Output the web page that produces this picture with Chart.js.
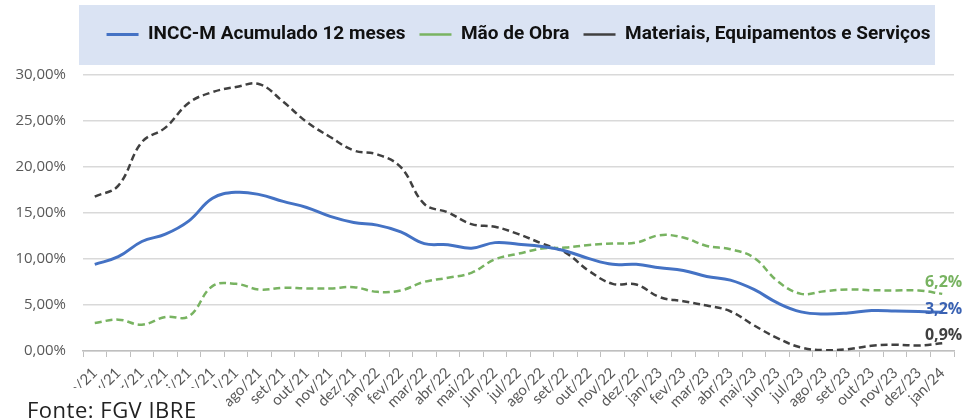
<!DOCTYPE html>
<html>
<head>
<meta charset="utf-8">
<script src="https://cdn.jsdelivr.net/npm/chart.js@4"></script>
<style>
  html, body { margin: 0; padding: 0; background: #ffffff; }
  #wrap { width: 966px; height: 420px; position: relative; }
</style>
</head>
<body>
<div id="wrap"><canvas id="c" width="966" height="420"></canvas></div>
<script>
const categories = [
  "jan/21","fev/21","mar/21","abr/21","mai/21","jun/21","jul/21","ago/21","set/21","out/21","nov/21","dez/21",
  "jan/22","fev/22","mar/22","abr/22","mai/22","jun/22","jul/22","ago/22","set/22","out/22","nov/22","dez/22",
  "jan/23","fev/23","mar/23","abr/23","mai/23","jun/23","jul/23","ago/23","set/23","out/23","nov/23","dez/23",
  "jan/24"
];
const inccM = [
  9.42, 10.25, 11.9, 12.7, 14.15, 16.6, 17.25, 17.0, 16.26, 15.6, 14.63, 13.97,
  13.68, 12.95, 11.67, 11.56, 11.17, 11.78, 11.6, 11.35, 10.87, 10.04, 9.42, 9.42,
  9.05, 8.76, 8.1, 7.7, 6.69, 5.23, 4.25, 4.02, 4.13, 4.39, 4.35, 4.28,
  4.2
];
const maoDeObra = [
  3.04, 3.41, 2.86, 3.7, 3.77, 7.05, 7.3, 6.68, 6.87, 6.8, 6.8, 6.94,
  6.43, 6.58, 7.52, 7.96, 8.5, 9.96, 10.58, 11.13, 11.24, 11.53, 11.68, 11.78,
  12.59, 12.33, 11.42, 11.06, 10.15, 7.6, 6.21, 6.5, 6.69, 6.61, 6.58, 6.58,
  6.21
];
const materiais = [
  16.78, 17.98, 22.7, 24.28, 26.98, 28.14, 28.7, 29.0, 27.1, 24.9, 23.26, 21.8,
  21.37, 19.98, 15.98, 15.06, 13.79, 13.5, 12.7, 11.68, 10.69, 8.69, 7.3, 7.23,
  5.85, 5.41, 4.94, 4.32, 2.79, 1.4, 0.38, 0.09, 0.2, 0.57, 0.68, 0.6,
  0.85
];
const seriesNames = ["INCC-M Acumulado 12 meses", "Mão de Obra", "Materiais, Equipamentos e Serviços"];
const endLabels = ["3,2%", "6,2%", "0,9%"];
const yTicks = [0, 5, 10, 15, 20, 25, 30];
const sourceNote = "Fonte: FGV IBRE";

const colors = ["#4472c4", "#78b361", "#404040"];
const labelColors = ["#3a62b3", "#78b361", "#404040"];
const labelDy = [-3, -11, -8];

const legendFitPlugin = {
  id: "legendFit",
  beforeInit(chart) {
    const orig = chart.legend.fit;
    chart.legend.fit = function () {
      orig.bind(chart.legend)();
      this.height = 64;
    };
  }
};

const decorPlugin = {
  id: "decor",
  beforeDraw(chart) {
    const ctx = chart.ctx;
    ctx.save();
    ctx.fillStyle = "#dae3f3";
    ctx.fillRect(79, 5, 856, 60);
    ctx.restore();
  },
  afterDatasetsDraw(chart) {
    const ctx = chart.ctx;
    ctx.save();
    ctx.font = "bold 16px 'Open Sans'";
    ctx.textAlign = "right";
    ctx.textBaseline = "middle";
    chart.data.datasets.forEach((ds, i) => {
      const meta = chart.getDatasetMeta(i);
      const p = meta.data[meta.data.length - 1];
      ctx.fillStyle = labelColors[i];
      ctx.fillText(endLabels[i], p.x + 20, p.y + labelDy[i]);
    });
    ctx.restore();
  },
  afterDraw(chart) {
    const ctx = chart.ctx;
    ctx.save();
    ctx.fillStyle = "#ffffff";
    ctx.fillRect(0, 388, 226, 32);
    ctx.fillStyle = "#222222";
    ctx.font = "22px 'Open Sans'";
    try { ctx.letterSpacing = "0.5px"; } catch (e) {}
    ctx.textAlign = "left";
    ctx.textBaseline = "alphabetic";
    ctx.fillText(sourceNote, 27, 418);
    ctx.restore();
  }
};

new Chart(document.getElementById("c"), {
  type: "line",
  data: {
    labels: categories,
    datasets: [
      { label: seriesNames[0], data: inccM, borderColor: colors[0], backgroundColor: colors[0], borderWidth: 3, pointRadius: 0, tension: 0.4, fill: false },
      { label: seriesNames[1], data: maoDeObra, borderColor: colors[1], backgroundColor: colors[1], borderWidth: 2.5, borderDash: [7, 4], pointRadius: 0, tension: 0.4, fill: false },
      { label: seriesNames[2], data: materiais, borderColor: colors[2], backgroundColor: colors[2], borderWidth: 2.5, borderDash: [7, 4], pointRadius: 0, tension: 0.4, fill: false }
    ]
  },
  options: {
    responsive: false,
    animation: false,
    layout: { padding: { top: 11, left: 0, right: 12, bottom: 0 } },
    plugins: {
      legend: {
        display: true,
        position: "top",
        fullSize: false,
        labels: {
          usePointStyle: true,
          pointStyle: "line",
          pointStyleWidth: 32,
          boxWidth: 32,
          padding: 14,
          color: "#111111",
          font: { family: "'Roboto', sans-serif", size: 19, weight: "bold" }
        }
      },
      tooltip: { enabled: false }
    },
    scales: {
      x: {
        offset: true,
        grid: { display: true, drawOnChartArea: false, drawTicks: true, tickLength: 6, color: "#bfbfbf", offset: true },
        border: { display: true, color: "#bfbfbf", width: 1.5 },
        ticks: {
          autoSkip: false, minRotation: 45, maxRotation: 45, padding: 7,
          color: "#595959",
          font: { family: "Lato", size: 15 }
        },
        afterFit(scale) { scale.height = 69; }
      },
      y: {
        min: 0, max: 30,
        afterBuildTicks(scale) { scale.ticks = yTicks.map(v => ({ value: v })); },
        grid: { color: "#d9d9d9", lineWidth: 1.5, drawTicks: false },
        border: { display: false },
        ticks: {
          padding: 17,
          color: "#595959",
          font: { family: "'Open Sans'", size: 15 },
          callback: (v) => v.toFixed(2).replace(".", ",") + "%"
        },
        afterFit(scale) { scale.width = 83; }
      }
    }
  },
  plugins: [legendFitPlugin, decorPlugin]
});
</script>
</body>
</html>
